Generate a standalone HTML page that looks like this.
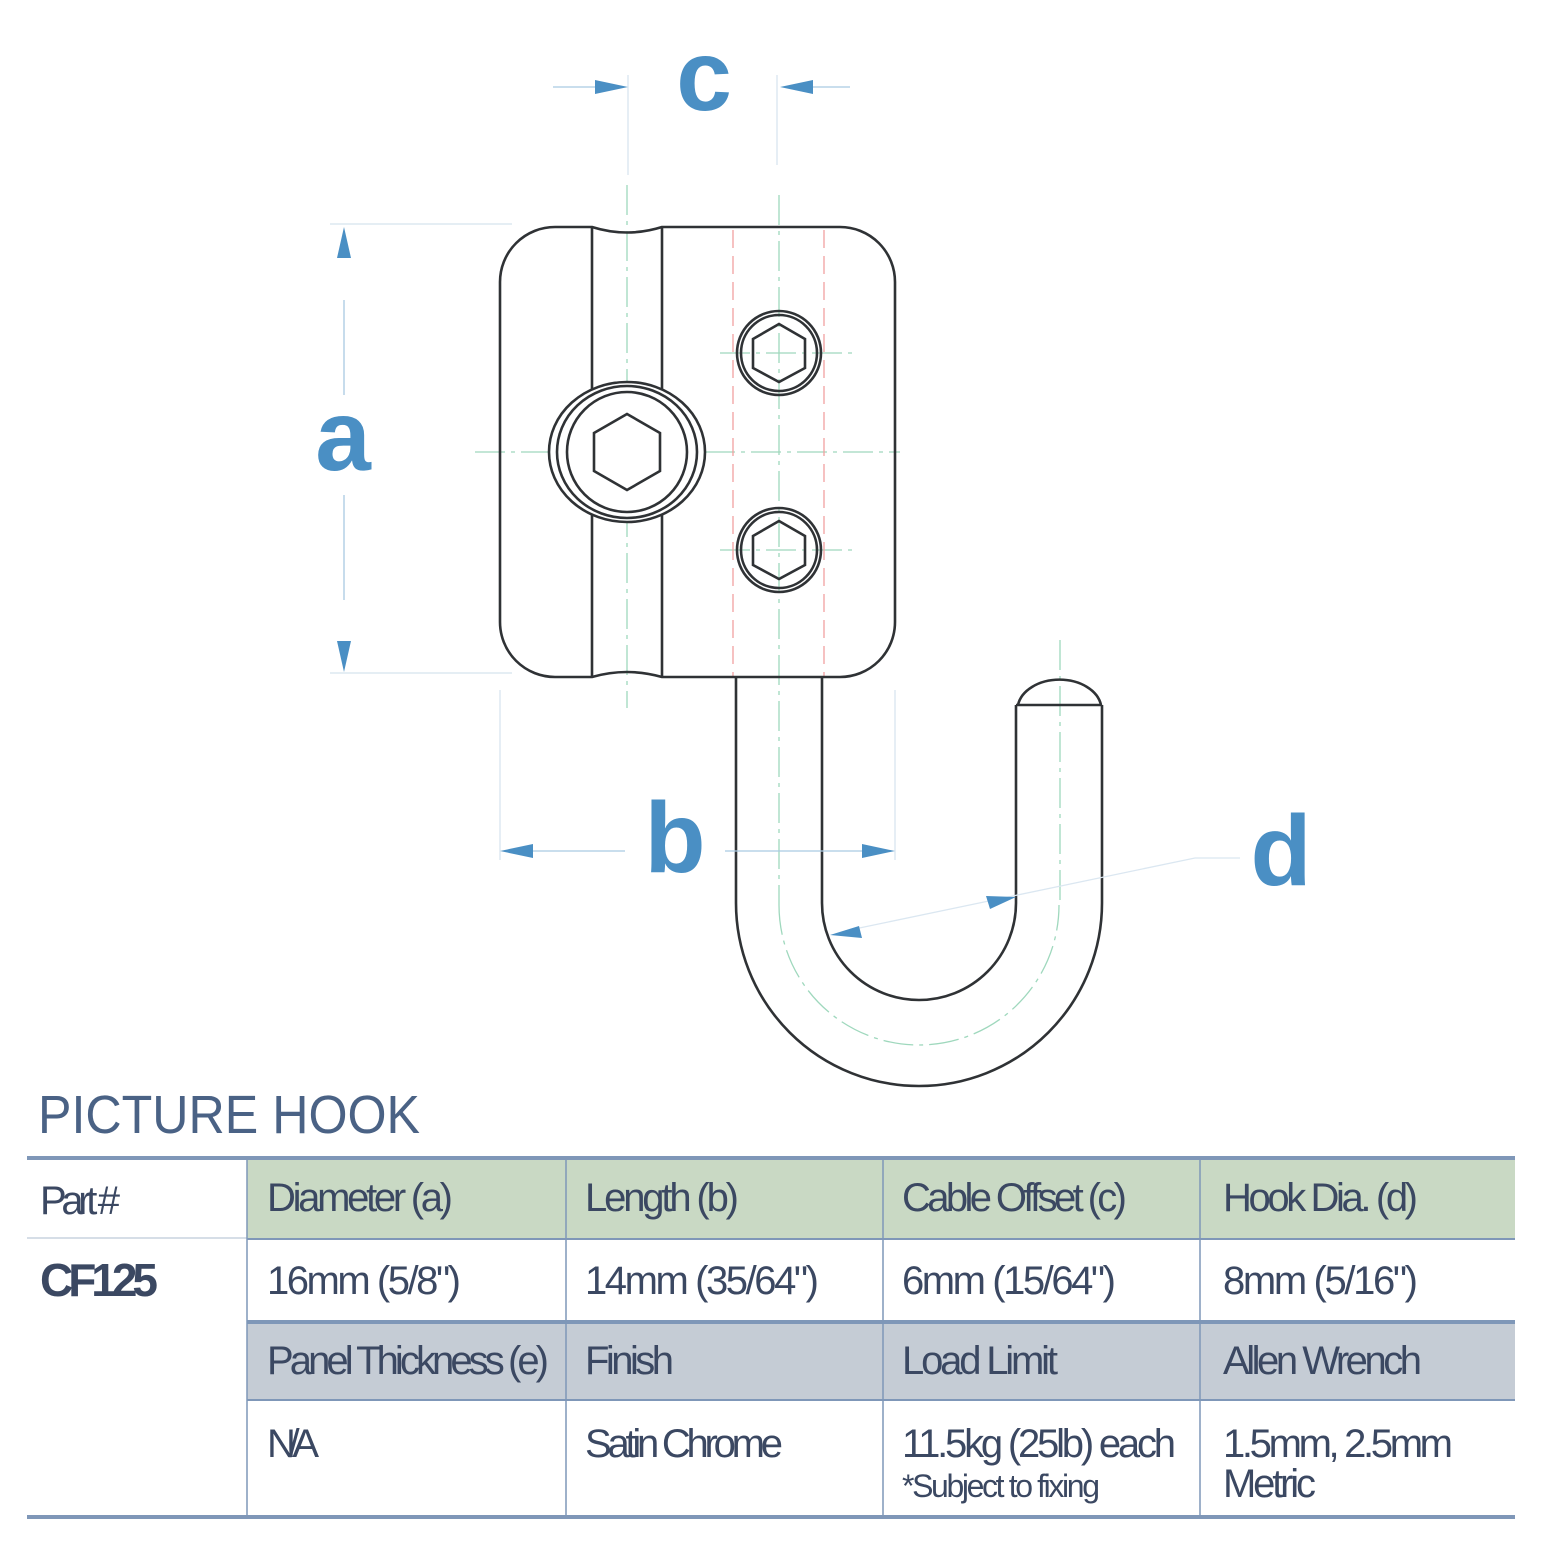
<!DOCTYPE html>
<html><head><meta charset="utf-8"><style>
html,body{margin:0;padding:0;background:#fff}
svg{display:block}
</style></head><body>
<svg width="1541" height="1542" viewBox="0 0 1541 1542" xmlns="http://www.w3.org/2000/svg">
<defs>
<marker id="ah" viewBox="0 0 10 10" refX="10" refY="5" markerWidth="34" markerHeight="20" markerUnits="userSpaceOnUse" orient="auto"><path d="M0,0 L10,5 L0,10 Z" fill="#4a8fc4"/></marker>
</defs>
<!-- centerlines -->
<g stroke="#9fd8bd" stroke-width="1.3" fill="none" stroke-dasharray="30,6,4,6">
<line x1="627" y1="185" x2="627" y2="708"/>
<line x1="779" y1="195" x2="779" y2="905"/>
<line x1="475" y1="452" x2="900" y2="452"/>
<line x1="720" y1="353" x2="855" y2="353"/>
<line x1="720" y1="550" x2="855" y2="550"/>
<line x1="1060" y1="640" x2="1060" y2="905"/>
<path d="M779,905 A140,140 0 0 0 1059,905"/>
</g>
<g stroke="#f0a0a0" stroke-width="1.3" stroke-dasharray="18,8">
<line x1="733" y1="230" x2="733" y2="677"/>
<line x1="824" y1="230" x2="824" y2="677"/>
</g>
<!-- extension lines -->
<g stroke="#d5e3ee" stroke-width="1.2">
<line x1="330" y1="224" x2="512" y2="224"/>
<line x1="330" y1="673" x2="512" y2="673"/>
<line x1="500" y1="690" x2="500" y2="860"/>
<line x1="895" y1="690" x2="895" y2="860"/>
<line x1="628" y1="75" x2="628" y2="175"/>
<line x1="777" y1="75" x2="777" y2="165"/>
</g>
<!-- body -->
<g stroke="#2f3235" stroke-width="2.6" fill="none">
<path d="M555,227 L592,227 Q627,238 662,227 L840,227 A55,55 0 0 1 895,282 L895,622 A55,55 0 0 1 840,677 L662,677 Q627,667 592,677 L555,677 A55,55 0 0 1 500,622 L500,282 A55,55 0 0 1 555,227 Z"/>
<line x1="592" y1="227" x2="592" y2="677"/>
<line x1="662" y1="227" x2="662" y2="677"/>
</g>
<ellipse cx="627" cy="452" rx="78" ry="70" fill="#fff" stroke="#2f3235" stroke-width="2.6"/>
<g stroke="#2f3235" stroke-width="2.6" fill="none">
<ellipse cx="627" cy="452" rx="70" ry="66"/>
<circle cx="627" cy="452" r="60"/>
<polygon points="627,414 660,433 660,471 627,490 594,471 594,433"/>
<circle cx="779" cy="353" r="42"/><circle cx="779" cy="353" r="38"/>
<polygon points="779,324 805,339 805,368 779,382 753,368 753,339"/>
<circle cx="779" cy="550" r="42"/><circle cx="779" cy="550" r="38"/>
<polygon points="779,521 805,536 805,565 779,579 753,565 753,536"/>
<!-- hook -->
<path d="M736,677 L736,903 A183,183 0 0 0 1102,903 L1102,705"/>
<path d="M822,677 L822,903 A97,97 0 0 0 1016,903 L1016,705"/>
<line x1="1016" y1="705" x2="1102" y2="705"/>
<path d="M1018,705 A42,30 0 0 1 1101,705"/>
</g>
<!-- dimensions -->
<g stroke="#a9c9e2" stroke-width="1.3" fill="none">
<line x1="344" y1="300" x2="344" y2="395"/>
<line x1="344" y1="495" x2="344" y2="600"/>
<line x1="520" y1="851" x2="625" y2="851"/>
<line x1="725" y1="851" x2="870" y2="851"/>
<line x1="553" y1="87" x2="600" y2="87"/>
<line x1="808" y1="87" x2="850" y2="87"/>
<polyline points="845,931 1195,858 1240,858" stroke="#dbe7f1"/>
</g>
<g fill="#4a8fc4">
<path d="M344,227 L351,258 L337,258 Z"/>
<path d="M344,672 L351,641 L337,641 Z"/>
<path d="M500,851 L533,844 L533,858 Z"/>
<path d="M895,851 L862,844 L862,858 Z"/>
<path d="M628,87 L595,80 L595,94 Z"/>
<path d="M780,87 L813,80 L813,94 Z"/>
<path d="M1016,897 L986,896 L990,909 Z"/>
<path d="M830,935 L859,926 L862,938 Z"/>
</g>
<g fill="#4a8fc4" font-family="'Liberation Sans',sans-serif" font-weight="bold" text-anchor="middle" font-size="100">
<text x="343" y="470">a</text>
<text x="675" y="872">b</text>
<text x="704" y="110">c</text>
<text x="1281" y="885">d</text>
</g>
<!-- title -->
<text x="38" y="1133" font-family="'Liberation Sans',sans-serif" font-size="54" fill="#4a6285" textLength="382" lengthAdjust="spacingAndGlyphs">PICTURE HOOK</text>
<!-- table -->
<rect x="247" y="1160" width="1268" height="78" fill="#c9d9c4"/>
<rect x="247" y="1324" width="1268" height="75" fill="#c5ccd5"/>
<g stroke="#7f97b8">
<line x1="27" y1="1158" x2="1515" y2="1158" stroke-width="4"/>
<line x1="27" y1="1517" x2="1515" y2="1517" stroke-width="4"/>
<line x1="247" y1="1322" x2="1515" y2="1322" stroke-width="4"/>
<line x1="247" y1="1239" x2="1515" y2="1239" stroke-width="2"/>
<line x1="247" y1="1400" x2="1515" y2="1400" stroke-width="2"/>
<line x1="27" y1="1238" x2="247" y2="1238" stroke-width="1.5" stroke="#c9d3df"/>
<line x1="247" y1="1160" x2="247" y2="1515" stroke-width="1.5"/>
<line x1="566" y1="1160" x2="566" y2="1515" stroke-width="1.5"/>
<line x1="883" y1="1160" x2="883" y2="1515" stroke-width="1.5"/>
<line x1="1200" y1="1160" x2="1200" y2="1515" stroke-width="1.5"/>
</g>
<g fill="#3b4862" font-family="'Liberation Sans',sans-serif" font-size="40" lengthAdjust="spacingAndGlyphs">
<text x="40" y="1214" textLength="80">Part #</text>
<text x="40" y="1296" font-weight="bold" font-size="46" textLength="118">CF125</text>
<text x="267" y="1211" textLength="186">Diameter (a)</text>
<text x="585" y="1211" textLength="154">Length (b)</text>
<text x="902" y="1211" textLength="225">Cable Offset (c)</text>
<text x="1223" y="1211" textLength="195">Hook Dia. (d)</text>
<text x="267" y="1294" textLength="194">16mm (5/8")</text>
<text x="585" y="1294" textLength="234">14mm (35/64")</text>
<text x="902" y="1294" textLength="214">6mm (15/64")</text>
<text x="1223" y="1294" textLength="195">8mm (5/16")</text>
<text x="267" y="1374" textLength="282">Panel Thickness (e)</text>
<text x="585" y="1374" textLength="89">Finish</text>
<text x="902" y="1374" textLength="156">Load Limit</text>
<text x="1223" y="1374" textLength="199">Allen Wrench</text>
<text x="267" y="1457" textLength="52">N/A</text>
<text x="585" y="1457" textLength="198">Satin Chrome</text>
<text x="902" y="1457" textLength="274">11.5kg (25lb) each</text>
<text x="902" y="1497" font-size="32" textLength="198">*Subject to fixing</text>
<text x="1223" y="1457" textLength="230">1.5mm, 2.5mm</text>
<text x="1223" y="1497" textLength="93">Metric</text>
</g>
</svg>
</body></html>
